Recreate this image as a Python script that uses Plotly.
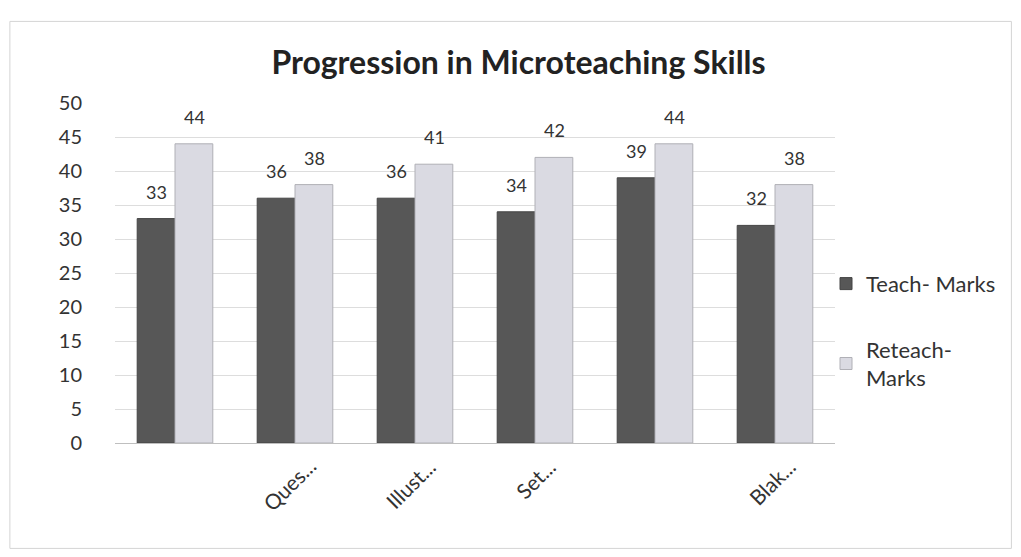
import plotly.graph_objects as go

categories = ["Skill 1", "Questioning", "Illustrating", "Set Induction", "Skill 5", "Blackboard"]
tick_labels = ["", "Ques...", "Illust...", "Set...", "", "Blak..."]
teach_marks = [33, 36, 36, 34, 39, 32]
reteach_marks = [44, 38, 41, 42, 44, 38]

font_family = "Lato, 'Open Sans', sans-serif"

fig = go.Figure()
fig.add_trace(go.Bar(
    x=categories, y=teach_marks, name="Teach- Marks", legendgroup="teach",
    marker=dict(color="#575757", line=dict(color="#444444", width=1)),
))
fig.add_trace(go.Bar(
    x=categories, y=reteach_marks, name="Reteach-<br>Marks", legendgroup="reteach",
    marker=dict(color="#dadae2", line=dict(color="#b0b0b6", width=1)),
))

annotations = []
for cat, t, r in zip(categories, teach_marks, reteach_marks):
    for val, shift in ((t, -19), (r, 19)):
        annotations.append(dict(x=cat, y=val, xref="x", yref="y", text=str(val),
                                showarrow=False, xshift=shift, yanchor="bottom", yshift=14,
                                font=dict(size=18, color="#333333", family=font_family)))
for cat, lab in zip(categories, tick_labels):
    if lab:
        annotations.append(dict(x=cat, y=0, xref="x", yref="y", text=lab, showarrow=False,
                                textangle=-45, xanchor="right", yanchor="top",
                                xshift=28, yshift=-8,
                                font=dict(size=21, color="#333333", family=font_family)))

fig.update_layout(
    width=1021, height=557,
    paper_bgcolor="white", plot_bgcolor="white",
    margin=dict(l=107, r=194, t=95, b=122),
    barmode="group", bargap=0.37, bargroupgap=0.0,
    font=dict(family=font_family, color="#333333"),
    title=dict(text="<b>Progression in Microteaching Skills</b>", x=0.5, xanchor="center",
               y=0.902, yanchor="middle", font=dict(size=32, color="#222222", family=font_family)),
    legend=dict(x=0.9875, xanchor="left", y=0.33, yanchor="middle",
                font=dict(size=22, color="#333333"), tracegroupgap=34,
                traceorder="grouped", bgcolor="rgba(0,0,0,0)", itemwidth=30),
    showlegend=True,
    annotations=annotations,
    xaxis=dict(tickmode="array", tickvals=categories, ticktext=[""] * len(categories),
               showticklabels=False,
               showgrid=False, showline=True, linecolor="#bfbfbf", linewidth=1,
               ticks="", automargin=False),
    yaxis=dict(range=[0, 50], dtick=5, tickfont=dict(size=20, color="#333333"),
               showgrid=True, gridcolor="#dddddd", gridwidth=1, zeroline=False,
               showline=False, ticks="", ticklabelstandoff=32, automargin=False),
    shapes=[dict(type="rect", xref="paper", yref="paper",
                 x0=-0.146, x1=1.245, y0=-0.31, y1=1.24,
                 line=dict(color="#d4d4d4", width=1), fillcolor="rgba(0,0,0,0)", layer="below")],
)

fig.write_html("out.html")
